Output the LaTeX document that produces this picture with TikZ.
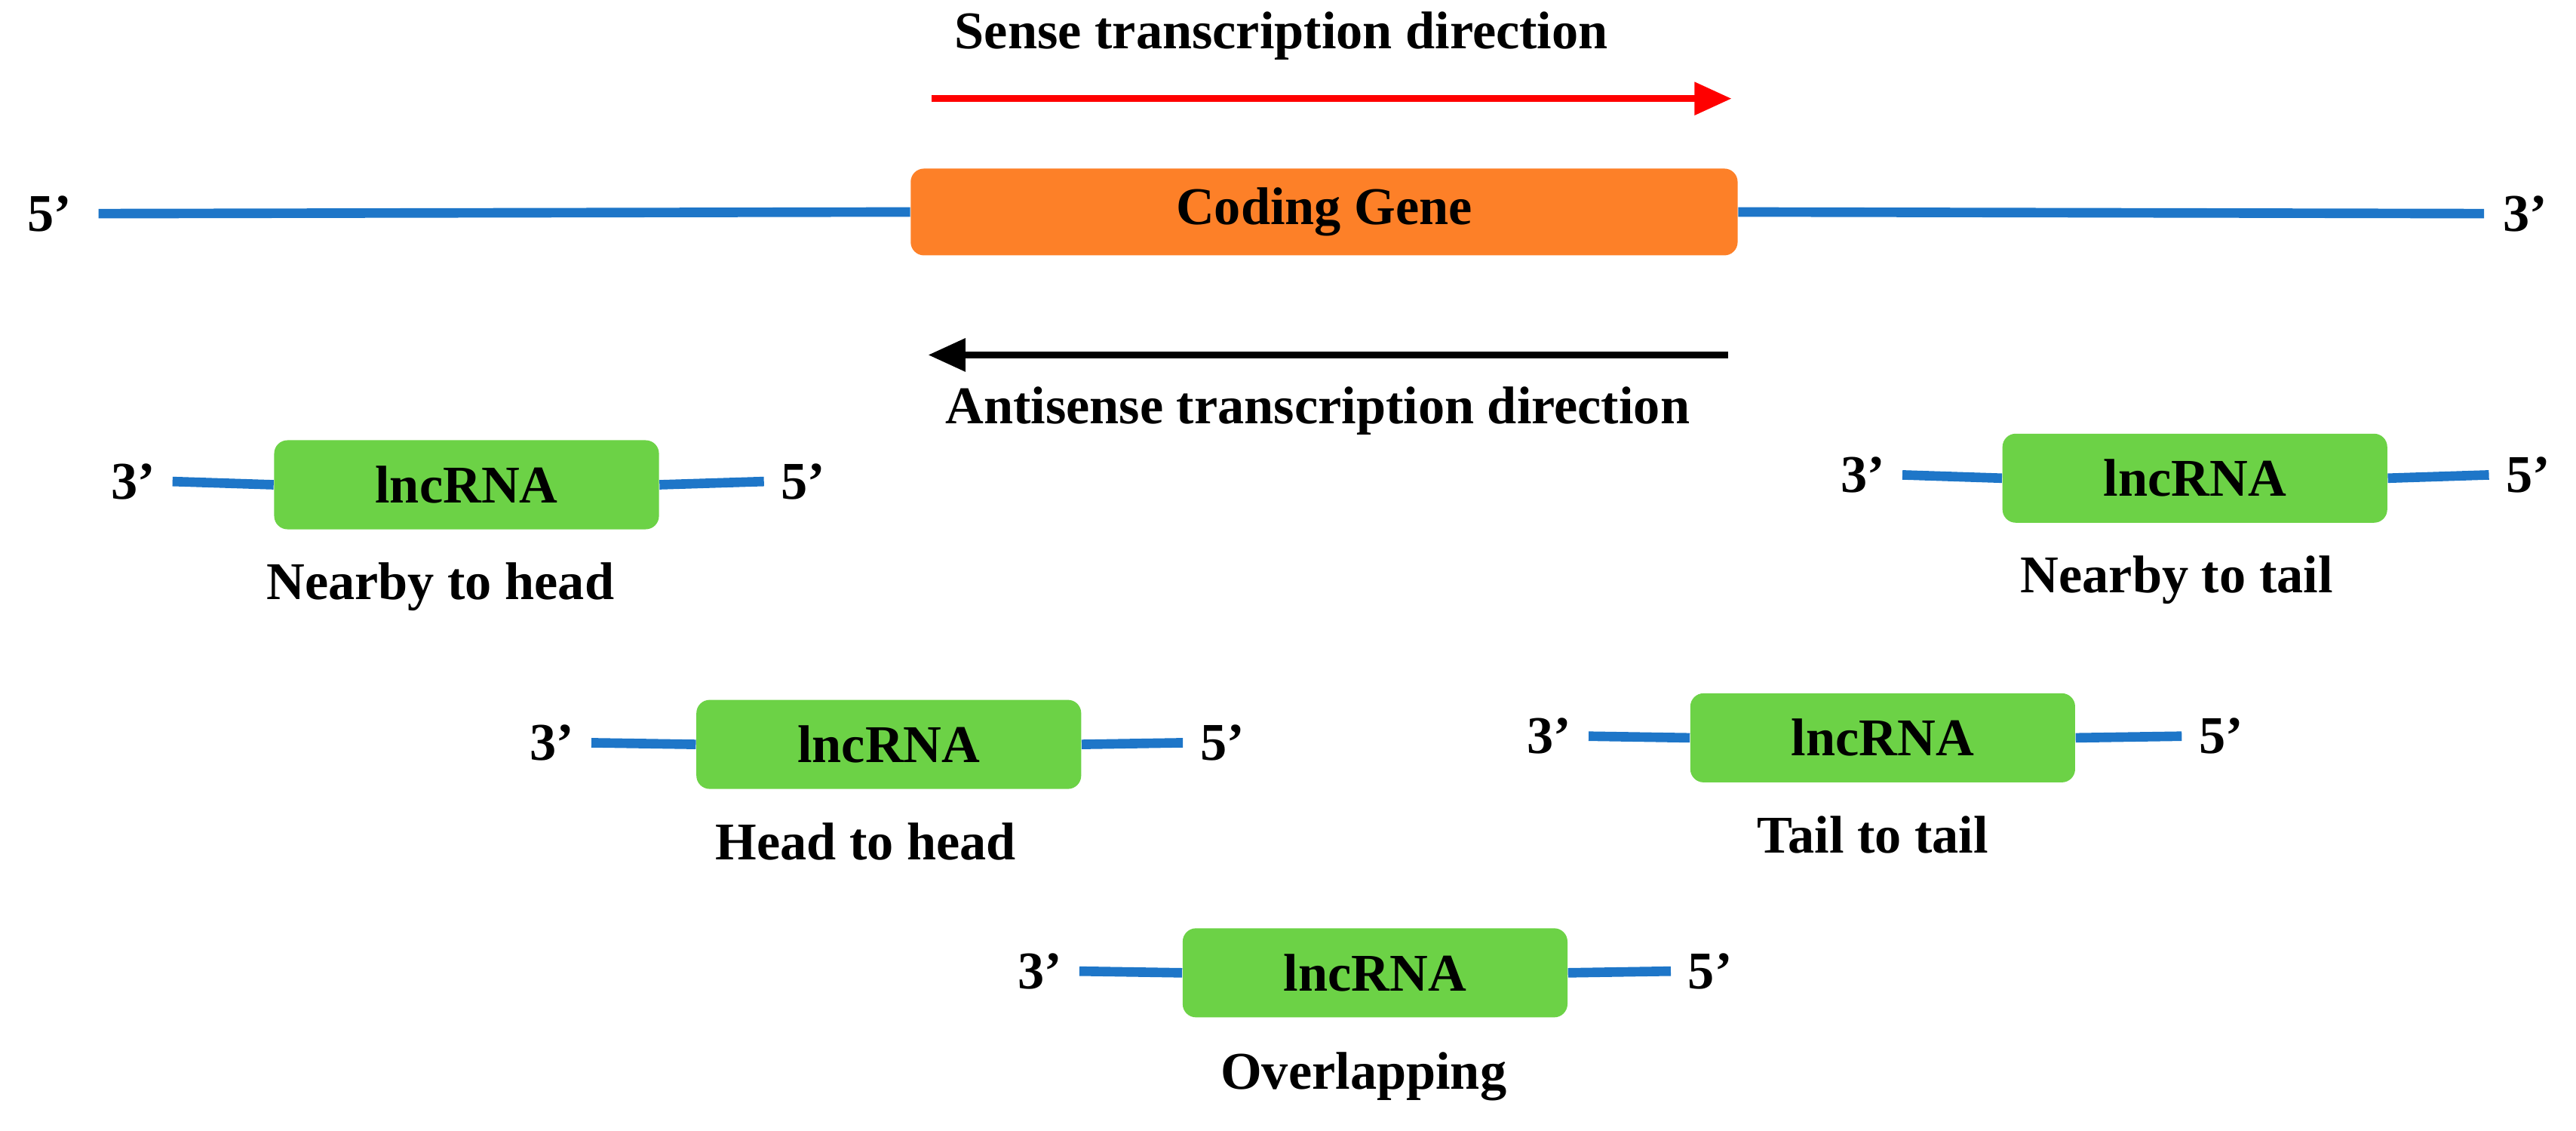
\documentclass[tikz,border=0pt]{standalone}
\usepackage{fontspec}
\setmainfont{Liberation Serif}
\usetikzlibrary{arrows.meta,positioning}
\definecolor{dnablue}{RGB}{30,118,200}
\definecolor{geneorange}{RGB}{253,128,40}
\definecolor{rnagreen}{RGB}{108,210,70}

\begin{document}
\begin{tikzpicture}[x=0.02178cm,y=-0.02178cm,font=\bfseries\fontsize{20}{24}\selectfont]
    \tikzset{strand/.style={draw=dnablue,line width=3.6pt},
             rna/.style={fill=rnagreen,rounded corners=5pt,minimum width=5.1cm,minimum height=1.18cm,inner sep=0pt},
             dir/.style={line width=2.4pt,-{Triangle[length=14pt,width=12pt]}}}
    \useasboundingbox (0,0) rectangle (1568,688);

    % coding gene on the main strand
    \node[fill=geneorange,rounded corners=5pt,minimum width=10.96cm,minimum height=1.15cm] (gene) at (806,129) {Coding Gene};
    \node (p5) at (30,130) {5’};
    \node (p3) at (1537,130) {3’};
    \coordinate (gl) at (60,130);
    \coordinate (gr) at (1512,130);
    \draw[strand] (gl) -- (gene.west);
    \draw[strand] (gene.east) -- (gr);

    % transcription directions
    \node (sense) at (780,22) {Sense transcription direction};
    \coordinate (s1) at (567,60);
    \coordinate (s2) at (1054,60);
    \draw[dir,red] (s1) -- (s2);
    \coordinate (a1) at (1052,216);
    \coordinate (a2) at (565,216);
    \draw[dir,black] (a1) -- (a2);
    \node (anti) at (802,250) {Antisense transcription direction};

    % nearby to head
    \node[rna] (r1) at (284,295) {lncRNA};
    \coordinate (r1l) at (105,293);
    \coordinate (r1r) at (465,293);
    \draw[strand] (r1l) -- (r1.west) (r1.east) -- (r1r);
    \node[left=3pt of r1l] {3’};
    \node[right=3pt of r1r] {5’};
    \node (l1) at (268,357) {Nearby to head};

    % nearby to tail
    \node[rna] (r2) at (1336,291) {lncRNA};
    \coordinate (r2l) at (1158,289);
    \coordinate (r2r) at (1515,289);
    \draw[strand] (r2l) -- (r2.west) (r2.east) -- (r2r);
    \node[left=3pt of r2l] {3’};
    \node[right=3pt of r2r] {5’};
    \node (l2) at (1325,353) {Nearby to tail};

    % head to head
    \node[rna] (r3) at (541,453) {lncRNA};
    \coordinate (r3l) at (360,452);
    \coordinate (r3r) at (720,452);
    \draw[strand] (r3l) -- (r3.west) (r3.east) -- (r3r);
    \node[left=3pt of r3l] {3’};
    \node[right=3pt of r3r] {5’};
    \node (l3) at (527,512) {Head to head};

    % tail to tail
    \node[rna] (r4) at (1146,449) {lncRNA};
    \coordinate (r4l) at (967,448);
    \coordinate (r4r) at (1328,448);
    \draw[strand] (r4l) -- (r4.west) (r4.east) -- (r4r);
    \node[left=3pt of r4l] {3’};
    \node[right=3pt of r4r] {5’};
    \node (l4) at (1140,508) {Tail to tail};

    % overlapping
    \node[rna] (r5) at (837,592) {lncRNA};
    \coordinate (r5l) at (657,591);
    \coordinate (r5r) at (1017,591);
    \draw[strand] (r5l) -- (r5.west) (r5.east) -- (r5r);
    \node[left=3pt of r5l] {3’};
    \node[right=3pt of r5r] {5’};
    \node (l5) at (830,655) {Overlapping};
\end{tikzpicture}
\end{document}
